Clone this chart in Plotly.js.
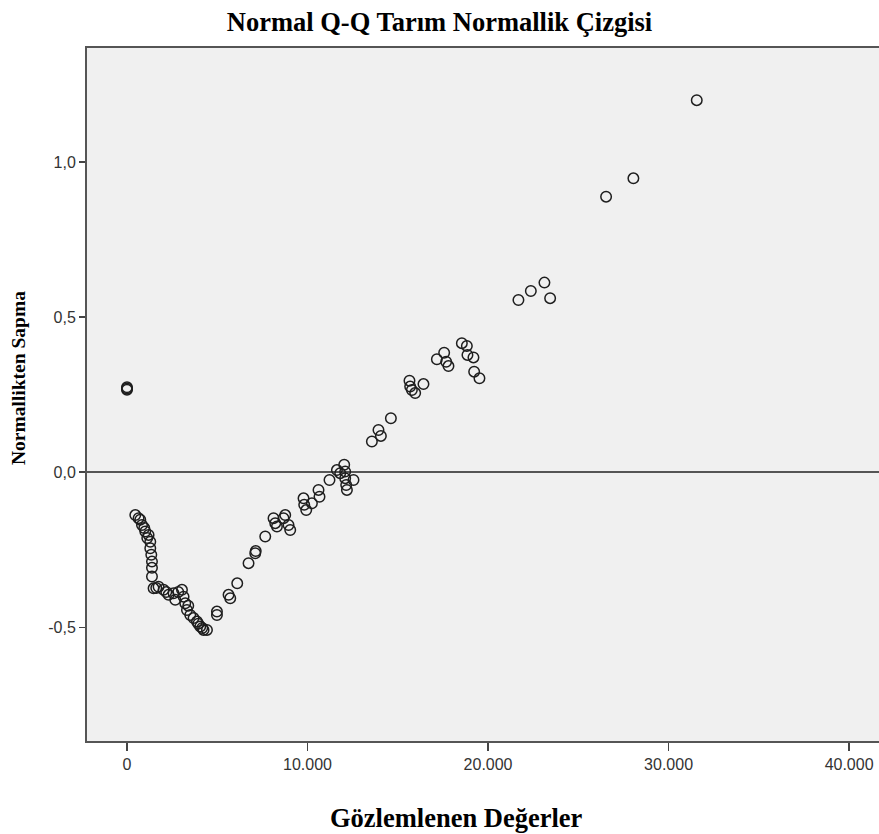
<!DOCTYPE html>
<html>
<head>
<meta charset="utf-8">
<script src="https://cdn.plot.ly/plotly-3.0.1.min.js"></script>
<style>
  html, body { margin: 0; padding: 0; background: #ffffff; }
  #chart { width: 879px; height: 834px; }
</style>
</head>
<body>
<div id="chart"></div>
<script>
// Detrended normal Q-Q: observed value vs. deviation from normal
const observed = [
  0, 0, 0,
  460, 642, 736, 831, 958, 1013, 1124, 1196, 1290, 1290, 1346, 1384, 1384, 1384,
  1473, 1622, 1750, 2027, 2176, 2303, 2580, 2674, 2840, 3045, 3134, 3228, 3322,
  3394, 3505, 3688, 3876, 3948, 4059, 4169, 4241, 4430,
  4983, 4983, 5626, 5720, 6107, 6733, 7104, 7132, 7658, 8117, 8212, 8306, 8671,
  8765, 8948, 9042, 9779, 9817, 9928, 10244, 10609, 10664, 11218, 11628, 11811,
  12032, 12087, 12087, 12143, 12182, 12547, 13566, 13931, 14064, 14618, 15648,
  15687, 15781, 15963, 16423, 17165, 17569, 17680, 17807, 18549, 18826, 18859,
  19192, 19231, 19524, 21683, 22370, 23123, 23439, 26539, 28051, 31561
];
const deviation = [
  0.266, 0.270, 0.274,
  -0.138, -0.148, -0.153, -0.170, -0.180, -0.191, -0.212, -0.202, -0.224, -0.245, -0.266, -0.288, -0.308, -0.336,
  -0.374, -0.373, -0.369, -0.379, -0.386, -0.395, -0.390, -0.411, -0.386, -0.379, -0.401, -0.422, -0.444,
  -0.430, -0.460, -0.470, -0.481, -0.488, -0.497, -0.502, -0.508, -0.508,
  -0.449, -0.460, -0.395, -0.406, -0.358, -0.293, -0.261, -0.254, -0.207, -0.148, -0.164, -0.175, -0.148,
  -0.138, -0.170, -0.186, -0.084, -0.105, -0.122, -0.100, -0.057, -0.079, -0.025, 0.007, -0.003,
  0.024, 0.002, -0.019, -0.041, -0.057, -0.025, 0.099, 0.136, 0.117, 0.174, 0.295,
  0.276, 0.265, 0.255, 0.284, 0.364, 0.385, 0.356, 0.342, 0.416, 0.407, 0.378,
  0.370, 0.324, 0.303, 0.555, 0.584, 0.611, 0.561, 0.888, 0.947, 1.199
];

const xTickVals = [0, 10000, 20000, 30000, 40000];
const xTickText = ['0', '10.000', '20.000', '30.000', '40.000'];
const yTickVals = [-0.5, 0, 0.5, 1.0];
const yTickText = ['-0,5', '0,0', '0,5', '1,0'];

const chartTitle = 'Normal Q-Q Tarım Normallik Çizgisi';
const xTitle = 'Gözlemlenen Değerler';
const yTitle = 'Normallikten Sapma';

const serifBold = 'Liberation Serif, Times New Roman, serif';
const tickFont = 'Liberation Sans, Arial, sans-serif';

const trace = {
  type: 'scatter',
  mode: 'markers',
  x: observed,
  y: deviation,
  marker: {
    symbol: 'circle-open',
    size: 10.5,
    color: '#1e1e1e',
    line: { width: 1.5, color: '#1e1e1e' }
  },
  hoverinfo: 'x+y'
};

const layout = {
  width: 879,
  height: 834,
  paper_bgcolor: '#ffffff',
  plot_bgcolor: '#f0f0f0',
  margin: { l: 87, r: 0, t: 48, b: 93 },
  showlegend: false,
  title: {
    text: '<b>' + chartTitle + '</b>',
    font: { family: serifBold, size: 26.5, color: '#000000' },
    x: 0.5, xref: 'container', xanchor: 'center',
    y: 1 - 22 / 834, yref: 'container', yanchor: 'middle'
  },
  xaxis: {
    range: [-2215, 41656],
    tickvals: xTickVals,
    ticktext: xTickText,
    ticks: 'outside',
    ticklen: 8,
    tickwidth: 1.5,
    tickcolor: '#444444',
    tickfont: { family: tickFont, size: 16, color: '#333333' },
    showgrid: false,
    zeroline: false,
    showline: true,
    linecolor: '#555555',
    linewidth: 2,
    mirror: true
  },
  yaxis: {
    range: [-0.866, 1.367],
    tickvals: yTickVals,
    ticktext: yTickText,
    ticks: 'outside',
    ticklen: 6,
    tickwidth: 1.5,
    tickcolor: '#444444',
    tickfont: { family: tickFont, size: 16, color: '#333333' },
    showgrid: false,
    zeroline: true,
    zerolinecolor: '#555555',
    zerolinewidth: 2,
    showline: true,
    linecolor: '#555555',
    linewidth: 2
  },
  annotations: [
    {
      text: '<b>' + xTitle + '</b>',
      xref: 'paper', yref: 'paper',
      x: (456 - 87) / 792, y: (741 - 818) / 693,
      xanchor: 'center', yanchor: 'middle',
      showarrow: false,
      font: { family: serifBold, size: 26.5, color: '#000000' }
    },
    {
      text: '<b>' + yTitle + '</b>',
      xref: 'paper', yref: 'paper',
      x: (18 - 87) / 792, y: (741 - 378) / 693,
      xanchor: 'center', yanchor: 'middle',
      textangle: -90,
      showarrow: false,
      font: { family: serifBold, size: 19.5, color: '#000000' }
    }
  ]
};

Plotly.newPlot('chart', [trace], layout, { displayModeBar: false, staticPlot: true });
</script>
</body>
</html>
